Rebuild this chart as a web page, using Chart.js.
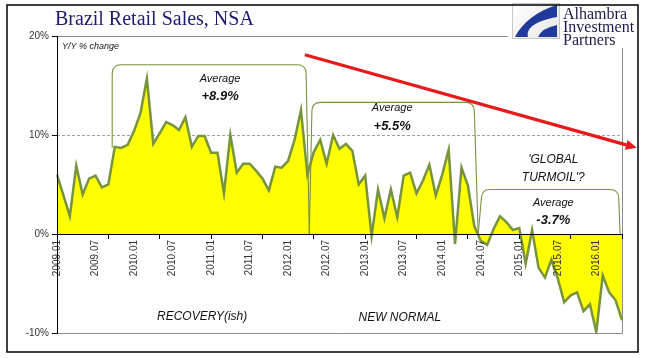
<!DOCTYPE html>
<html><head><meta charset="utf-8">
<script src="https://cdn.jsdelivr.net/npm/chart.js@4.4.1/dist/chart.umd.min.js"></script>
<style>html,body{margin:0;padding:0;background:#fff}#wrap{width:667px;height:358px;position:relative}</style>
</head><body><div id="wrap"><canvas id="c" width="667" height="358"></canvas></div>
<script>
const categories = [
 '2009.01','2009.02','2009.03','2009.04','2009.05','2009.06','2009.07','2009.08','2009.09','2009.10','2009.11','2009.12',
 '2010.01','2010.02','2010.03','2010.04','2010.05','2010.06','2010.07','2010.08','2010.09','2010.10','2010.11','2010.12',
 '2011.01','2011.02','2011.03','2011.04','2011.05','2011.06','2011.07','2011.08','2011.09','2011.10','2011.11','2011.12',
 '2012.01','2012.02','2012.03','2012.04','2012.05','2012.06','2012.07','2012.08','2012.09','2012.10','2012.11','2012.12',
 '2013.01','2013.02','2013.03','2013.04','2013.05','2013.06','2013.07','2013.08','2013.09','2013.10','2013.11','2013.12',
 '2014.01','2014.02','2014.03','2014.04','2014.05','2014.06','2014.07','2014.08','2014.09','2014.10','2014.11','2014.12',
 '2015.01','2015.02','2015.03','2015.04','2015.05','2015.06','2015.07','2015.08','2015.09','2015.10','2015.11','2015.12',
 '2016.01','2016.02','2016.03','2016.04','2016.05'
];
const retailYoY = [
 6.0, 3.9, 1.8, 6.9, 4.0, 5.6, 5.9, 4.7, 5.0, 8.8, 8.7, 9.0,
 10.4, 12.2, 15.7, 9.1, 10.2, 11.3, 11.0, 10.5, 11.8, 8.8, 9.9, 9.9,
 8.2, 8.2, 4.1, 10.0, 6.2, 7.1, 7.1, 6.4, 5.6, 4.4, 6.8, 6.7,
 7.4, 9.5, 12.5, 6.0, 8.3, 9.5, 7.1, 10.0, 8.6, 9.1, 8.4, 5.0,
 5.9, -0.2, 4.5, 1.6, 4.5, 1.7, 5.9, 6.2, 4.1, 5.4, 7.0, 3.9,
 6.0, 8.5, -1.0, 6.7, 4.9, 0.8, -0.7, -1.1, 0.5, 1.8, 1.2, 0.4,
 0.6, -3.0, 0.4, -3.4, -4.4, -2.6, -4.5, -6.9, -6.2, -5.9, -7.8, -7.1,
 -9.9, -4.2, -5.9, -6.7, -8.7
];
const tickLabels = ['2009.01','2009.07','2010.01','2010.07','2011.01','2011.07','2012.01','2012.07',
 '2013.01','2013.07','2014.01','2014.07','2015.01','2015.07','2016.01'];
const yTicks = [-10, 0, 10, 20];
const periodAverages = ['+8.9%', '+5.5%', '-3.7%'];

// annotation geometry in data units (category index, percent)
const brackets = [
 {lb:[8.6, 8.7], ltx:8.6, top:17.1, rtx:38.8, rb:[39.3, 0]},
 {lb:[39.3, 0], ltx:39.7, top:13.3, rtx:65.0, rb:[65.6, 0]},
 {lb:[65.6, 0], ltx:66.1, top:4.5, rtx:87.5, rb:[87.7, 0]}
];
const averageLabels = [
 {x:25.4, y1:15.7, y2:13.9, text:periodAverages[0]},
 {x:52.2, y1:12.7, y2:10.9, text:periodAverages[1]},
 {x:77.3, y1:3.1, y2:1.4, text:periodAverages[2]}
];
const phaseLabels = [
 {x:22.6, y:-8.3, text:'RECOVERY(ish)'},
 {x:53.4, y:-8.5, text:'NEW NORMAL'},
 {x:77.3, y:7.5, text:"'GLOBAL"},
 {x:77.3, y:5.7, text:"TURMOIL'?"}
];
const trendArrow = {from:[38.6, 18.1], to:[90.3, 8.7]};

const annot = {
 id:'annot',
 beforeDatasetsDraw(chart){
  const {ctx, chartArea:a, scales:{y}} = chart;
  ctx.save();
  ctx.lineWidth = 1;
  ctx.strokeStyle = '#a0a0a0';
  ctx.setLineDash([3,2]);
  const y10 = Math.round(y.getPixelForValue(10)) + 0.5;
  ctx.beginPath(); ctx.moveTo(a.left, y10); ctx.lineTo(a.right, y10); ctx.stroke();
  ctx.setLineDash([]);
  ctx.strokeStyle = '#8c8c8c';
  const yt = Math.round(a.top) + 0.5, yb = Math.round(a.bottom) + 0.5, xr = Math.round(a.right) + 0.5;
  ctx.beginPath();
  ctx.moveTo(a.left, yt); ctx.lineTo(508, yt);
  ctx.moveTo(xr, 48); ctx.lineTo(xr, yb);
  ctx.moveTo(a.left, yb); ctx.lineTo(xr, yb);
  ctx.stroke();
  ctx.restore();
 },
 afterDraw(chart){
  const {ctx, chartArea:a, scales:{x,y}} = chart;
  const px = v => x.getPixelForValue(v), py = v => y.getPixelForValue(v);
  ctx.save();
  // brackets
  ctx.strokeStyle = '#77933c'; ctx.lineWidth = 1.1;
  brackets.forEach(b => {
   const r = 9, T = py(b.top), L = px(b.ltx), R = px(b.rtx);
   ctx.beginPath();
   ctx.moveTo(px(b.lb[0]), py(b.lb[1]));
   ctx.lineTo(L, T + r);
   ctx.quadraticCurveTo(L, T, L + r, T);
   ctx.lineTo(R - r, T);
   ctx.quadraticCurveTo(R, T, R, T + r);
   ctx.lineTo(px(b.rb[0]), py(b.rb[1]));
   ctx.stroke();
  });
  // texts
  ctx.fillStyle = '#111';
  ctx.textAlign = 'center'; ctx.textBaseline = 'middle';
  averageLabels.forEach(l => {
   ctx.font = 'italic 11px "Liberation Sans", Arial, sans-serif';
   ctx.fillText('Average', px(l.x), py(l.y1));
   ctx.font = 'italic bold 13px "Liberation Sans", Arial, sans-serif';
   ctx.fillText(l.text, px(l.x), py(l.y2));
  });
  ctx.font = 'italic 12px "Liberation Sans", Arial, sans-serif';
  phaseLabels.forEach(l => ctx.fillText(l.text, px(l.x), py(l.y)));
  ctx.textAlign = 'left';
  ctx.font = 'italic 9px "Liberation Sans", Arial, sans-serif';
  ctx.fillText('Y/Y % change', a.left + 5, a.top + 10);
  // arrow
  const x0 = px(trendArrow.from[0]), y0 = py(trendArrow.from[1]);
  const x1 = px(trendArrow.to[0]), y1 = py(trendArrow.to[1]);
  const ang = Math.atan2(y1 - y0, x1 - x0), hl = 11, hw = 5;
  const bx = x1 - hl * Math.cos(ang), by = y1 - hl * Math.sin(ang);
  ctx.strokeStyle = '#e8191b'; ctx.fillStyle = '#e8191b'; ctx.lineWidth = 3.2;
  ctx.beginPath(); ctx.moveTo(x0, y0); ctx.lineTo(bx, by); ctx.stroke();
  ctx.beginPath();
  ctx.moveTo(x1, y1);
  ctx.lineTo(bx + hw * Math.sin(ang), by - hw * Math.cos(ang));
  ctx.lineTo(bx - hw * Math.sin(ang), by + hw * Math.cos(ang));
  ctx.closePath(); ctx.fill();
  // title
  ctx.fillStyle = '#1c1c6e';
  ctx.textBaseline = 'alphabetic'; ctx.textAlign = 'left';
  ctx.font = '20px "Liberation Serif", "Times New Roman", serif';
  ctx.fillText('Brazil Retail Sales, NSA', 55, 25);
  // logo
  const lx = 512, ly = 3, lw = 47, lh = 35;
  const g = ctx.createLinearGradient(lx, ly, lx + lw, ly + lh);
  g.addColorStop(0, '#ffffff'); g.addColorStop(1, '#e6e6e6');
  ctx.fillStyle = g; ctx.fillRect(lx, ly, lw, lh);
  ctx.strokeStyle = '#c8c8c8'; ctx.lineWidth = 1; ctx.strokeRect(lx + 0.5, ly + 0.5, lw, lh);
  ctx.fillStyle = '#1f3a9a';
  ctx.beginPath();
  ctx.moveTo(lx + 45, ly + 2);
  ctx.bezierCurveTo(lx + 25, ly + 8, lx + 10, ly + 20, lx + 3, ly + 34);
  ctx.lineTo(lx + 16, ly + 34);
  ctx.bezierCurveTo(lx + 14, ly + 26, lx + 22, ly + 18, lx + 45, ly + 14);
  ctx.closePath(); ctx.fill();
  ctx.beginPath();
  ctx.moveTo(lx + 26, ly + 34);
  ctx.quadraticCurveTo(lx + 30, ly + 25, lx + 45, ly + 22);
  ctx.lineTo(lx + 45, ly + 34);
  ctx.closePath(); ctx.fill();
  ctx.fillStyle = '#1a1a4a';
  ctx.font = '16px "Liberation Serif", "Times New Roman", serif';
  ctx.fillText('Alhambra', 563, 19);
  ctx.fillText('Investment', 563, 32);
  ctx.fillText('Partners', 563, 45);
  // outer frame
  ctx.strokeStyle = '#000'; ctx.lineWidth = 1.5;
  ctx.strokeRect(7, 5, 631, 347);
  ctx.restore();
 }
};

new Chart(document.getElementById('c'), {
 type:'line',
 data:{ labels:categories, datasets:[{
  data:retailYoY, fill:'origin', backgroundColor:'#ffff00', borderColor:'#77933c',
  borderWidth:2.5, pointRadius:0, tension:0
 }]},
 options:{
  responsive:false, animation:false,
  layout:{padding:{left:7, top:36, right:45, bottom:25}},
  plugins:{legend:{display:false}, tooltip:{enabled:false}, title:{display:false}},
  scales:{
   x:{ type:'category', position:{y:0}, offset:false,
    grid:{display:true, drawOnChartArea:false, drawTicks:true, tickLength:4, z:1,
     tickColor: c => (c.index % 8 === 0 ? '#000' : 'rgba(0,0,0,0)')},
    border:{display:true, color:'#000', width:1, z:1},
    ticks:{autoSkip:false, maxRotation:90, minRotation:90, padding:2, color:'#333', z:1,
     font:{family:'"Liberation Sans", Arial, sans-serif', size:10},
     callback:(v,i) => tickLabels.includes(categories[i]) ? categories[i] : ''}
   },
   y:{ min:-10, max:20,
    afterFit(s){ s.width = 50; },
    afterBuildTicks(s){ s.ticks = yTicks.map(v => ({value:v})); },
    grid:{drawOnChartArea:false, drawTicks:true, tickLength:5, tickColor:'#000'},
    border:{display:true, color:'#000', width:1, z:1},
    ticks:{padding:3, color:'#333', font:{family:'"Liberation Sans", Arial, sans-serif', size:10},
     callback:v => v + '%'}
   }
  }
 },
 plugins:[annot]
});
</script></body></html>
